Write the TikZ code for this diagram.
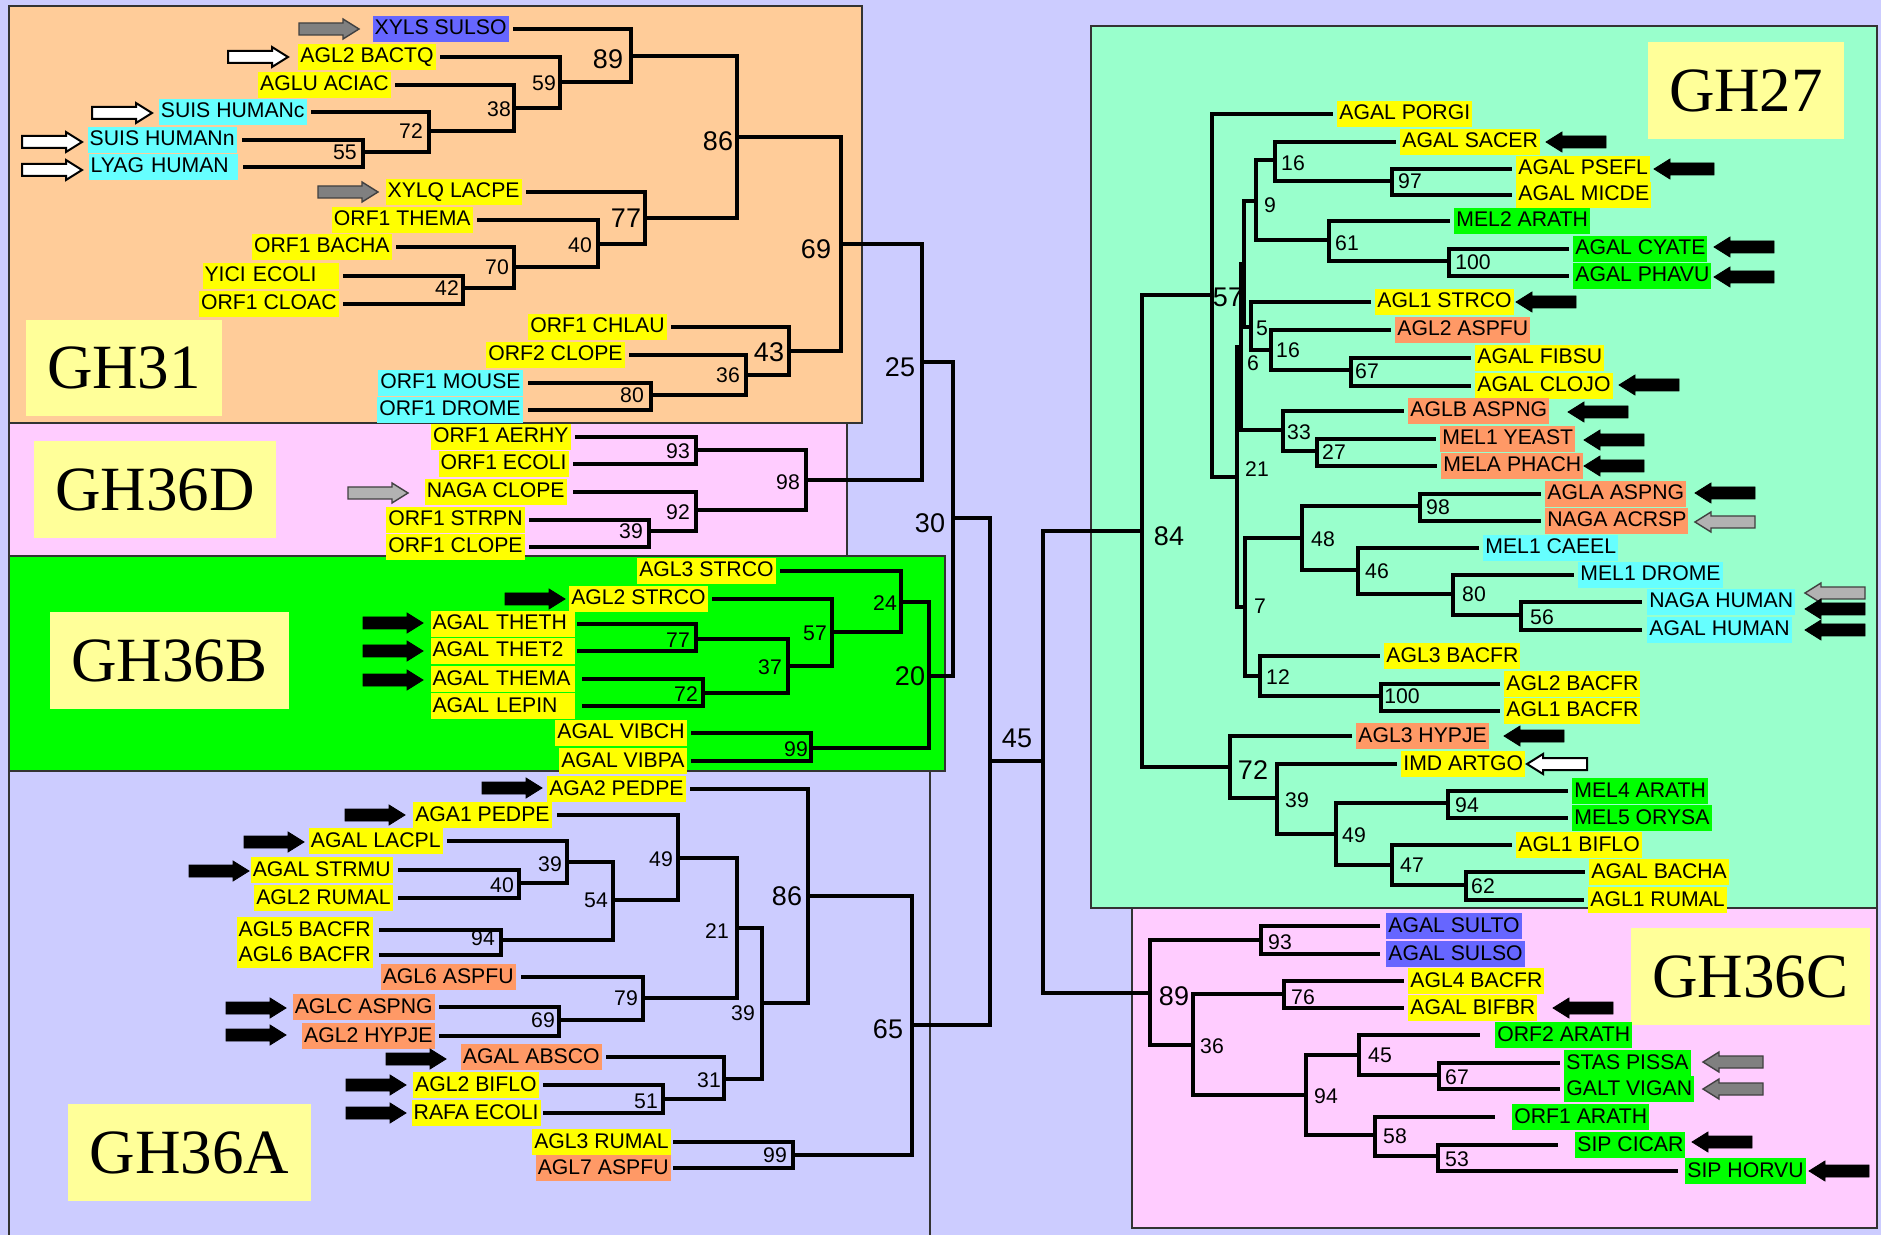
\documentclass[tikz,border=0pt]{standalone}
\usepackage{fontspec}
\setmainfont{Liberation Sans}
\newfontfamily\grpfont{Liberation Serif}
\usetikzlibrary{patterns}
\definecolor{bgl}{HTML}{CCCCFF}
\definecolor{peach}{HTML}{FFCC99}
\definecolor{pnk}{HTML}{FFCCFF}
\definecolor{grn}{HTML}{00FF00}
\definecolor{mint}{HTML}{99FFCC}
\definecolor{ylw}{HTML}{FFFF00}
\definecolor{cyn}{HTML}{66FFFF}
\definecolor{blu}{HTML}{6666FF}
\definecolor{org}{HTML}{FF9966}
\definecolor{gyl}{HTML}{FFFF99}
\begin{document}
\begin{tikzpicture}[x=0.5pt,y=-0.5pt,
 br/.style={line width=2pt, line cap=rect, line join=miter},
 lab/.style={font=\fontsize{10.6}{12}\selectfont, inner xsep=1pt, inner ysep=1.2pt, text height=8.3pt, text depth=2.3pt},
 labL/.style={lab, anchor=east},
 labR/.style={lab, anchor=west},
 bs/.style={font=\fontsize{10.6}{12}\selectfont, inner sep=0pt},
 bsl/.style={font=\fontsize{13.5}{15}\selectfont, inner sep=0pt},
 grp/.style={fill=gyl, font=\grpfont\fontsize{31.5}{34}\selectfont, inner sep=0pt},
 region/.style={draw=black!80, line width=0.7pt},
 blk/.style={fill=black, draw=black, line width=0.4pt},
 wht/.style={fill=white, draw=black, line width=1pt},
 gry/.style={fill=black!30, draw=black!75, line width=0.7pt},
 htc/.style={fill=black!50, draw=black!75, line width=0.7pt, postaction={pattern=crosshatch dots, pattern color=black!10}},
 rarr/.pic={\path[pic actions] (-30,-6) -- (14,-6) -- (14,-10) -- (30,0) -- (14,10) -- (14,6) -- (-30,6) -- cycle;},
 larr/.pic={\path[pic actions] (30,-6) -- (-14,-6) -- (-14,-10) -- (-30,0) -- (-14,10) -- (-14,6) -- (30,6) -- cycle;}
]
\useasboundingbox (0,0) rectangle (1881,1235);
\fill[bgl] (0,0) rectangle (1881,1235);
% regions
\filldraw[region, fill=peach] (9,6) rectangle (862,423);
\filldraw[region, fill=pnk] (9,423) rectangle (847,556);
\filldraw[region, fill=grn] (9,556) rectangle (945,771);
\draw[region] (9,1235) -- (9,771) -- (930,771) -- (930,1235);
\filldraw[region, fill=mint] (1091,26) rectangle (1877,908);
\filldraw[region, fill=pnk] (1132,908) rectangle (1877,1228);
% group labels
\node[grp, minimum width=98pt, minimum height=48pt] (g31) at (124,368) {GH31};
\node[grp, minimum width=121pt, minimum height=48.5pt] (g36d) at (155,489.5) {GH36D};
\node[grp, minimum width=119.5pt, minimum height=48.5pt] (g36b) at (169.5,660.5) {GH36B};
\node[grp, minimum width=121.5pt, minimum height=48.5pt] (g36a) at (189.5,1152.5) {GH36A};
\node[grp, minimum width=98pt, minimum height=48.5pt] (g27) at (1746,90.5) {GH27};
\node[grp, minimum width=119.5pt, minimum height=48.5pt] (g36c) at (1750.5,976.5) {GH36C};

% ---------------- internal node coordinates
\coordinate (a55) at (363,152);
\coordinate (a72) at (429,131);
\coordinate (a38) at (514,108);
\coordinate (a59) at (560,82);
\coordinate (a89) at (631,56);
\coordinate (a42) at (463,288);
\coordinate (a70) at (514,267);
\coordinate (a40) at (598,244);
\coordinate (a77) at (645,218);
\coordinate (a86) at (737,137);
\coordinate (a80) at (651,395);
\coordinate (a36) at (746,375);
\coordinate (a43) at (789,351);
\coordinate (a69) at (841,244);
\coordinate (r25) at (922,362);
\coordinate (d93) at (696,450);
\coordinate (d39) at (649,531);
\coordinate (d92) at (696,510);
\coordinate (d98) at (806,480);
\coordinate (r30) at (953,518);
\coordinate (b77) at (696,639);
\coordinate (b72) at (703,693);
\coordinate (b37) at (788,666);
\coordinate (b57) at (832,632);
\coordinate (b24) at (901,602);
\coordinate (b99) at (811,748);
\coordinate (b20) at (929,676);
\coordinate (r45) at (990,761);
\coordinate (root) at (1043,762);
\coordinate (h39) at (567,862);
\coordinate (h40) at (519,883);
\coordinate (h94) at (501,940);
\coordinate (h54) at (613,900);
\coordinate (h49) at (678,858);
\coordinate (h69) at (559,1020);
\coordinate (h79) at (643,998);
\coordinate (h21) at (737,928);
\coordinate (h51) at (663,1099);
\coordinate (h31) at (724,1079);
\coordinate (h39b) at (762,1003);
\coordinate (h86) at (808,896);
\coordinate (h99) at (793,1155);
\coordinate (h65) at (912,1025);
\coordinate (c84) at (1142,531);
\coordinate (c57) at (1212,295);
\coordinate (c72) at (1230,767);
\coordinate (c21) at (1237,477);
\coordinate (c6) at (1241,347);
\coordinate (c7) at (1245,607);
\coordinate (cX) at (1244,264);
\coordinate (c33) at (1283,430);
\coordinate (c9) at (1256,201);
\coordinate (c5) at (1251,327);
\coordinate (c16a) at (1275,160);
\coordinate (c61) at (1329,240);
\coordinate (c97) at (1392,181);
\coordinate (c100a) at (1449,261);
\coordinate (c16b) at (1271,350);
\coordinate (c67) at (1351,370);
\coordinate (c27) at (1317,451);
\coordinate (c48) at (1302,538);
\coordinate (c12) at (1260,676);
\coordinate (c98) at (1420,506);
\coordinate (c46) at (1358,570);
\coordinate (c80) at (1453,594);
\coordinate (c56) at (1521,615);
\coordinate (c100b) at (1381,696);
\coordinate (c39) at (1277,798);
\coordinate (c49) at (1336,834);
\coordinate (c94) at (1448,803);
\coordinate (c47) at (1392,865);
\coordinate (c62) at (1466,885);
\coordinate (s89) at (1150,993);
\coordinate (s93) at (1261,940);
\coordinate (s36) at (1193,1045);
\coordinate (s76) at (1284,994);
\coordinate (s94) at (1306,1095);
\coordinate (s45) at (1359,1055);
\coordinate (s58) at (1375,1135);
\coordinate (s67) at (1439,1075);
\coordinate (s53) at (1438,1156);

% ---------------- leaf labels (left trees)
\node[labL,fill=blu] (xyls) at (509,29) {XYLS SULSO};
\node[labL,fill=ylw] (bactq) at (436,57) {AGL2 BACTQ};
\node[labL,fill=ylw] (aciac) at (391,85) {AGLU ACIAC};
\node[labL,fill=cyn] (suisc) at (307,112) {SUIS HUMANc};
\node[labL,fill=cyn] (suisn) at (237,140) {SUIS HUMANn};
\node[labL,fill=cyn,text width=72.5pt] (lyag) at (238,167) {LYAG HUMAN};
\node[labL,fill=ylw] (xylq) at (522,192) {XYLQ LACPE};
\node[labL,fill=ylw] (thema1) at (473,220) {ORF1 THEMA};
\node[labL,fill=ylw] (bacha1) at (392,247) {ORF1 BACHA};
\node[labL,fill=ylw,text width=66pt] (yici) at (339,276) {YICI ECOLI};
\node[labL,fill=ylw] (cloac) at (339,304) {ORF1 CLOAC};
\node[labL,fill=ylw] (chlau) at (667,327) {ORF1 CHLAU};
\node[labL,fill=ylw] (clope2) at (625,355) {ORF2 CLOPE};
\node[labL,fill=cyn] (mouse) at (523,383) {ORF1 MOUSE};
\node[labL,fill=cyn] (drome1) at (523,410) {ORF1 DROME};
\node[labL,fill=ylw] (aerhy) at (571,437) {ORF1 AERHY};
\node[labL,fill=ylw] (ecoli1) at (569,464) {ORF1 ECOLI};
\node[labL,fill=ylw] (nagacl) at (567,492) {NAGA CLOPE};
\node[labL,fill=ylw] (strpn) at (525,520) {ORF1 STRPN};
\node[labL,fill=ylw] (clope1) at (525,547) {ORF1 CLOPE};
\node[labL,fill=ylw] (agl3st) at (776,571) {AGL3 STRCO};
\node[labL,fill=ylw] (agl2st) at (708,599) {AGL2 STRCO};
\node[labL,fill=ylw,text width=70pt] (theth) at (575,624) {AGAL THETH};
\node[labL,fill=ylw,text width=70pt] (thet2) at (575,651) {AGAL THET2};
\node[labL,fill=ylw,text width=70pt] (thema) at (575,679) {AGAL THEMA};
\node[labL,fill=ylw,text width=70pt] (lepin) at (575,706) {AGAL LEPIN};
\node[labL,fill=ylw] (vibch) at (687,733) {AGAL VIBCH};
\node[labL,fill=ylw] (vibpa) at (687,761) {AGAL VIBPA};
\node[labL,fill=ylw] (aga2) at (686,789) {AGA2 PEDPE};
\node[labL,fill=ylw] (aga1) at (552,815) {AGA1 PEDPE};
\node[labL,fill=ylw] (lacpl) at (443,841) {AGAL LACPL};
\node[labL,fill=ylw] (strmu) at (393,870) {AGAL STRMU};
\node[labL,fill=ylw] (agl2ru) at (393,898) {AGL2 RUMAL};
\node[labL,fill=ylw] (agl5bf) at (373,930) {AGL5 BACFR};
\node[labL,fill=ylw] (agl6bf) at (373,955) {AGL6 BACFR};
\node[labL,fill=org] (agl6as) at (516,977) {AGL6 ASPFU};
\node[labL,fill=org] (aglcas) at (435,1007) {AGLC ASPNG};
\node[labL,fill=org] (agl2hy) at (435,1036) {AGL2 HYPJE};
\node[labL,fill=org] (absco) at (602,1057) {AGAL ABSCO};
\node[labL,fill=ylw] (agl2bi) at (539,1085) {AGL2 BIFLO};
\node[labL,fill=ylw] (rafa) at (541,1113) {RAFA ECOLI};
\node[labL,fill=ylw] (agl3ru) at (671,1142) {AGL3 RUMAL};
\node[labL,fill=org] (agl7as) at (671,1168) {AGL7 ASPFU};

% ---------------- leaf labels (right trees)
\node[labR,fill=ylw] (porgi) at (1337,114) {AGAL PORGI};
\node[labR,fill=ylw] (sacer) at (1400,142) {AGAL SACER};
\node[labR,fill=ylw] (psefl) at (1516,169) {AGAL PSEFL};
\node[labR,fill=ylw] (micde) at (1516,195) {AGAL MICDE};
\node[labR,fill=grn] (mel2) at (1454,221) {MEL2 ARATH};
\node[labR,fill=grn] (cyate) at (1573,249) {AGAL CYATE};
\node[labR,fill=grn] (phavu) at (1573,276) {AGAL PHAVU};
\node[labR,fill=ylw] (agl1st) at (1375,302) {AGL1 STRCO};
\node[labR,fill=org] (agl2af) at (1395,330) {AGL2 ASPFU};
\node[labR,fill=ylw] (fibsu) at (1475,358) {AGAL FIBSU};
\node[labR,fill=ylw] (clojo) at (1475,386) {AGAL CLOJO};
\node[labR,fill=org] (aglb) at (1408,411) {AGLB ASPNG};
\node[labR,fill=org] (yeast) at (1440,439) {MEL1 YEAST};
\node[labR,fill=org] (phach) at (1441,466) {MELA PHACH};
\node[labR,fill=org] (agla) at (1545,494) {AGLA ASPNG};
\node[labR,fill=org] (acrsp) at (1545,521) {NAGA ACRSP};
\node[labR,fill=cyn] (caeel) at (1483,548) {MEL1 CAEEL};
\node[labR,fill=cyn] (mel1dr) at (1578,575) {MEL1 DROME};
\node[labR,fill=cyn] (nagahu) at (1647,602) {NAGA HUMAN};
\node[labR,fill=cyn] (agalhu) at (1647,630) {AGAL HUMAN};
\node[labR,fill=ylw] (agl3bf) at (1384,656) {AGL3 BACFR};
\node[labR,fill=ylw] (agl2bf) at (1504,684) {AGL2 BACFR};
\node[labR,fill=ylw] (agl1bf) at (1504,711) {AGL1 BACFR};
\node[labR,fill=org] (agl3hy) at (1356,736) {AGL3 HYPJE};
\node[labR,fill=ylw] (imd) at (1401,764) {IMD ARTGO};
\node[labR,fill=grn] (mel4) at (1572,791) {MEL4 ARATH};
\node[labR,fill=grn] (mel5) at (1572,818) {MEL5 ORYSA};
\node[labR,fill=ylw] (agl1bi) at (1516,845) {AGL1 BIFLO};
\node[labR,fill=ylw] (bacha) at (1589,872) {AGAL BACHA};
\node[labR,fill=ylw] (agl1ru) at (1588,900) {AGL1 RUMAL};
\node[labR,fill=blu] (sulto) at (1386,926) {AGAL SULTO};
\node[labR,fill=blu] (sulso) at (1386,954) {AGAL SULSO};
\node[labR,fill=ylw] (agl4bf) at (1408,981) {AGL4 BACFR};
\node[labR,fill=ylw] (bifbr) at (1408,1008) {AGAL BIFBR};
\node[labR,fill=grn] (orf2ar) at (1495,1035) {ORF2 ARATH};
\node[labR,fill=grn] (stas) at (1564,1063) {STAS PISSA};
\node[labR,fill=grn] (galt) at (1564,1089) {GALT VIGAN};
\node[labR,fill=grn] (orf1ar) at (1512,1117) {ORF1 ARATH};
\node[labR,fill=grn] (sipci) at (1575,1145) {SIP CICAR};
\node[labR,fill=grn] (sipho) at (1685,1171) {SIP HORVU};

% ---------------- branches
\begin{scope}[br]
% GH31
\draw ([xshift=3pt]xyls.east) -| (a89);
\draw ([xshift=3pt]bactq.east) -| (a59);
\draw ([xshift=3pt]aciac.east) -| (a38);
\draw ([xshift=3pt]suisc.east) -| (a72);
\draw ([xshift=3.5pt]suisn.east) -| (a55);
\draw ([xshift=3.5pt]lyag.east) -| (a55);
\draw (a55) -| (a72);
\draw (a72) -| (a38);
\draw (a38) -| (a59);
\draw (a59) -| (a89);
\draw (a89) -| (a86);
\draw ([xshift=3pt]xylq.east) -| (a77);
\draw ([xshift=3pt]thema1.east) -| (a40);
\draw ([xshift=3pt]bacha1.east) -| (a70);
\draw ([xshift=3pt]yici.east) -| (a42);
\draw ([xshift=3pt]cloac.east) -| (a42);
\draw (a42) -| (a70);
\draw (a70) -| (a40);
\draw (a40) -| (a77);
\draw (a77) -| (a86);
\draw (a86) -| (a69);
\draw ([xshift=3pt]chlau.east) -| (a43);
\draw ([xshift=3pt]clope2.east) -| (a36);
\draw ([xshift=3.5pt]mouse.east) -| (a80);
\draw ([xshift=3.5pt]drome1.east) -| (a80);
\draw (a80) -| (a36);
\draw (a36) -| (a43);
\draw (a43) -| (a69);
\draw (a69) -| (r25);
% GH36D
\draw ([xshift=3pt]aerhy.east) -| (d93);
\draw ([xshift=3pt]ecoli1.east) -| (d93);
\draw ([xshift=4pt]nagacl.east) -| (d92);
\draw ([xshift=3pt]strpn.east) -| (d39);
\draw ([xshift=3pt]clope1.east) -| (d39);
\draw (d39) -| (d92);
\draw (d93) -| (d98);
\draw (d92) -| (d98);
\draw (d98) -| (r25);
\draw (r25) -| (r30);
% GH36B
\draw ([xshift=3pt]agl3st.east) -| (b24);
\draw ([xshift=3pt]agl2st.east) -| (b57);
\draw ([xshift=2pt]theth.east) -| (b77);
\draw ([xshift=2pt]thet2.east) -| (b77);
\draw ([xshift=4.5pt]thema.east) -| (b72);
\draw ([xshift=4.5pt]lepin.east) -| (b72);
\draw (b77) -| (b37);
\draw (b72) -| (b37);
\draw (b37) -| (b57);
\draw (b57) -| (b24);
\draw (b24) -| (b20);
\draw ([xshift=3pt]vibch.east) -| (b99);
\draw ([xshift=3pt]vibpa.east) -| (b99);
\draw (b99) -| (b20);
\draw (b20) -| (r30);
\draw (r30) -| (r45);
% GH36A
\draw ([xshift=3pt]aga2.east) -| (h86);
\draw ([xshift=3.5pt]aga1.east) -| (h49);
\draw ([xshift=3pt]lacpl.east) -| (h39);
\draw ([xshift=3.5pt]strmu.east) -| (h40);
\draw ([xshift=3.5pt]agl2ru.east) -| (h40);
\draw (h40) -| (h39);
\draw (h39) -| (h54);
\draw ([xshift=4pt]agl5bf.east) -| (h94);
\draw ([xshift=4pt]agl6bf.east) -| (h94);
\draw (h94) -| (h54);
\draw (h54) -| (h49);
\draw (h49) -| (h21);
\draw ([xshift=3.5pt]agl6as.east) -| (h79);
\draw ([xshift=3pt]aglcas.east) -| (h69);
\draw ([xshift=3pt]agl2hy.east) -| (h69);
\draw (h69) -| (h79);
\draw (h79) -| (h21);
\draw (h21) -| (h39b);
\draw ([xshift=3pt]absco.east) -| (h31);
\draw ([xshift=3pt]agl2bi.east) -| (h51);
\draw ([xshift=2pt]rafa.east) -| (h51);
\draw (h51) -| (h31);
\draw (h31) -| (h39b);
\draw (h39b) -| (h86);
\draw (h86) -| (h65);
\draw ([xshift=2pt]agl3ru.east) -| (h99);
\draw ([xshift=2pt]agl7as.east) -| (h99);
\draw (h99) -| (h65);
\draw (h65) -| (r45);
\draw (r45) -| (root);
% GH27
\draw ([xshift=-3pt]porgi.west) -| (c57);
\draw ([xshift=-3pt]sacer.west) -| (c16a);
\draw ([xshift=-3pt]psefl.west) -| (c97);
\draw ([xshift=-3pt]micde.west) -| (c97);
\draw (c97) -| (c16a);
\draw (c16a) -| (c9);
\draw ([xshift=-3pt]mel2.west) -| (c61);
\draw ([xshift=-3pt]cyate.west) -| (c100a);
\draw ([xshift=-3pt]phavu.west) -| (c100a);
\draw (c100a) -| (c61);
\draw (c61) -| (c9);
\draw (c9) -| (cX);
\draw ([xshift=-3pt]agl1st.west) -| (c5);
\draw ([xshift=-3pt]agl2af.west) -| (c16b);
\draw ([xshift=-3pt]fibsu.west) -| (c67);
\draw ([xshift=-3pt]clojo.west) -| (c67);
\draw (c67) -| (c16b);
\draw (c16b) -| (c5);
\draw (c5) -| (cX);
\draw (cX) -| (c6);
\draw ([xshift=-3pt]aglb.west) -| (c33);
\draw ([xshift=-3pt]yeast.west) -| (c27);
\draw ([xshift=-3pt]phach.west) -| (c27);
\draw (c27) -| (c33);
\draw (c33) -| (c6);
\draw (c6) -| (c21);
\draw ([xshift=-3pt]agla.west) -| (c98);
\draw ([xshift=-3pt]acrsp.west) -| (c98);
\draw (c98) -| (c48);
\draw ([xshift=-3pt]caeel.west) -| (c46);
\draw ([xshift=-3pt]mel1dr.west) -| (c80);
\draw ([xshift=-3.5pt]nagahu.west) -| (c56);
\draw ([xshift=-3.5pt]agalhu.west) -| (c56);
\draw (c56) -| (c80);
\draw (c80) -| (c46);
\draw (c46) -| (c48);
\draw (c48) -| (c7);
\draw ([xshift=-3pt]agl3bf.west) -| (c12);
\draw ([xshift=-3pt]agl2bf.west) -| (c100b);
\draw ([xshift=-3pt]agl1bf.west) -| (c100b);
\draw (c100b) -| (c12);
\draw (c12) -| (c7);
\draw (c7) -| (c21);
\draw (c21) -| (c57);
\draw (c57) -| (c84);
\draw ([xshift=-3pt]agl3hy.west) -| (c72);
\draw ([xshift=-3pt]imd.west) -| (c39);
\draw ([xshift=-3pt]mel4.west) -| (c94);
\draw ([xshift=-3pt]mel5.west) -| (c94);
\draw (c94) -| (c49);
\draw ([xshift=-3pt]agl1bi.west) -| (c47);
\draw ([xshift=-3pt]bacha.west) -| (c62);
\draw ([xshift=-3pt]agl1ru.west) -| (c62);
\draw (c62) -| (c47);
\draw (c47) -| (c49);
\draw (c49) -| (c39);
\draw (c39) -| (c72);
\draw (c72) -| (c84);
\draw (c84) -| (root);
% GH36C
\draw ([xshift=-4pt]sulto.west) -| (s93);
\draw ([xshift=-4pt]sulso.west) -| (s93);
\draw (s93) -| (s89);
\draw ([xshift=-3pt]agl4bf.west) -| (s76);
\draw ([xshift=-3pt]bifbr.west) -| (s76);
\draw (s76) -| (s36);
\draw ([xshift=-8.5pt]orf2ar.west) -| (s45);
\draw ([xshift=-3pt]stas.west) -| (s67);
\draw ([xshift=-3pt]galt.west) -| (s67);
\draw (s67) -| (s45);
\draw (s45) -| (s94);
\draw ([xshift=-9.5pt]orf1ar.west) -| (s58);
\draw ([xshift=-9.5pt]sipci.west) -| (s53);
\draw ([xshift=-4.5pt]sipho.west) -| (s53);
\draw (s53) -| (s58);
\draw (s58) -| (s94);
\draw (s94) -| (s36);
\draw (s36) -| (s89);
\draw (s89) -| (root);
\end{scope}

% ---------------- arrows
\pic[htc] at (329,29) {rarr};
\pic[wht] at (258,57) {rarr};
\pic[wht] at (122,113) {rarr};
\pic[wht] at (52,142) {rarr};
\pic[wht] at (52,170) {rarr};
\pic[htc] at (348,192) {rarr};
\pic[gry] at (378,493) {rarr};
\pic[blk] at (535,599) {rarr};
\pic[blk] at (393,623) {rarr};
\pic[blk] at (393,651) {rarr};
\pic[blk] at (393,680) {rarr};
\pic[blk] at (512,788) {rarr};
\pic[blk] at (375,815) {rarr};
\pic[blk] at (274,842) {rarr};
\pic[blk] at (219,871) {rarr};
\pic[blk] at (256,1008) {rarr};
\pic[blk] at (256,1035) {rarr};
\pic[blk] at (416,1059) {rarr};
\pic[blk] at (376,1085) {rarr};
\pic[blk] at (376,1113) {rarr};
\pic[blk] at (1576,142) {larr};
\pic[blk] at (1684,169) {larr};
\pic[blk] at (1744,247) {larr};
\pic[blk] at (1744,277) {larr};
\pic[blk] at (1546,302) {larr};
\pic[blk] at (1649,385) {larr};
\pic[blk] at (1598,412) {larr};
\pic[blk] at (1614,440) {larr};
\pic[blk] at (1614,466) {larr};
\pic[blk] at (1725,493) {larr};
\pic[gry] at (1725,522) {larr};
\pic[gry] at (1835,593) {larr};
\pic[blk] at (1835,609) {larr};
\pic[blk] at (1835,630) {larr};
\pic[blk] at (1534,736) {larr};
\pic[wht] at (1557,764) {larr};
\pic[blk] at (1583,1008) {larr};
\pic[htc] at (1733,1062) {larr};
\pic[htc] at (1733,1089) {larr};
\pic[blk] at (1722,1142) {larr};
\pic[blk] at (1839,1171) {larr};

% ---------------- bootstrap values
\node[bs] (v1) at (345,152) {55};
\node[bs] (v2) at (411,131) {72};
\node[bs] (v3) at (499,109) {38};
\node[bs] (v4) at (544,83) {59};
\node[bsl] (v5) at (608,59) {89};
\node[bs] (v6) at (447,288) {42};
\node[bs] (v7) at (497,267) {70};
\node[bs] (v8) at (580,245) {40};
\node[bsl] (v9) at (626,218) {77};
\node[bsl] (v10) at (718,141) {86};
\node[bs] (v11) at (632,395) {80};
\node[bs] (v12) at (728,375) {36};
\node[bsl] (v13) at (769,352) {43};
\node[bsl] (v14) at (816,249) {69};
\node[bsl] (v15) at (900,367) {25};
\node[bs] (v16) at (678,451) {93};
\node[bs] (v17) at (631,531) {39};
\node[bs] (v18) at (678,512) {92};
\node[bs] (v19) at (788,482) {98};
\node[bsl] (v20) at (930,523) {30};
\node[bs] (v21) at (885,603) {24};
\node[bs] (v22) at (815,633) {57};
\node[bs] (v23) at (678,640) {77};
\node[bs] (v24) at (686,694) {72};
\node[bs] (v25) at (770,667) {37};
\node[bs] (v26) at (796,749) {99};
\node[bsl] (v27) at (910,676) {20};
\node[bsl] (v28) at (1017,738) {45};
\node[bs] (v29) at (661,859) {49};
\node[bs] (v30) at (550,864) {39};
\node[bs] (v31) at (502,885) {40};
\node[bs] (v32) at (596,900) {54};
\node[bs] (v33) at (483,938) {94};
\node[bs] (v34) at (717,931) {21};
\node[bs] (v35) at (626,998) {79};
\node[bs] (v36) at (543,1020) {69};
\node[bs] (v37) at (743,1013) {39};
\node[bs] (v38) at (709,1080) {31};
\node[bs] (v39) at (646,1101) {51};
\node[bsl] (v40) at (787,896) {86};
\node[bs] (v41) at (775,1155) {99};
\node[bsl] (v42) at (888,1029) {65};
\node[bsl] (v43) at (1169,536) {84};
\node[bsl] (v44) at (1228,297) {57};
\node[bs] (v45) at (1293,163) {16};
\node[bs] (v46) at (1270,205) {9};
\node[bs] (v47) at (1410,181) {97};
\node[bs] (v48) at (1347,243) {61};
\node[bs] (v49) at (1473,262) {100};
\node[bs] (v50) at (1262,328) {5};
\node[bs] (v51) at (1253,363) {6};
\node[bs] (v52) at (1288,350) {16};
\node[bs] (v53) at (1367,371) {67};
\node[bs] (v54) at (1299,432) {33};
\node[bs] (v55) at (1334,452) {27};
\node[bs] (v56) at (1257,469) {21};
\node[bs] (v57) at (1438,507) {98};
\node[bs] (v58) at (1323,539) {48};
\node[bs] (v59) at (1377,571) {46};
\node[bs] (v60) at (1474,594) {80};
\node[bs] (v61) at (1542,617) {56};
\node[bs] (v62) at (1260,606) {7};
\node[bs] (v63) at (1278,677) {12};
\node[bs] (v64) at (1402,696) {100};
\node[bsl] (v65) at (1253,770) {72};
\node[bs] (v66) at (1297,800) {39};
\node[bs] (v67) at (1467,805) {94};
\node[bs] (v68) at (1354,835) {49};
\node[bs] (v69) at (1412,865) {47};
\node[bs] (v70) at (1483,886) {62};
\node[bs] (v71) at (1280,942) {93};
\node[bsl] (v72) at (1174,996) {89};
\node[bs] (v73) at (1303,997) {76};
\node[bs] (v74) at (1212,1046) {36};
\node[bs] (v75) at (1380,1055) {45};
\node[bs] (v76) at (1457,1077) {67};
\node[bs] (v77) at (1326,1096) {94};
\node[bs] (v78) at (1395,1136) {58};
\node[bs] (v79) at (1457,1159) {53};
\end{tikzpicture}
\end{document}
